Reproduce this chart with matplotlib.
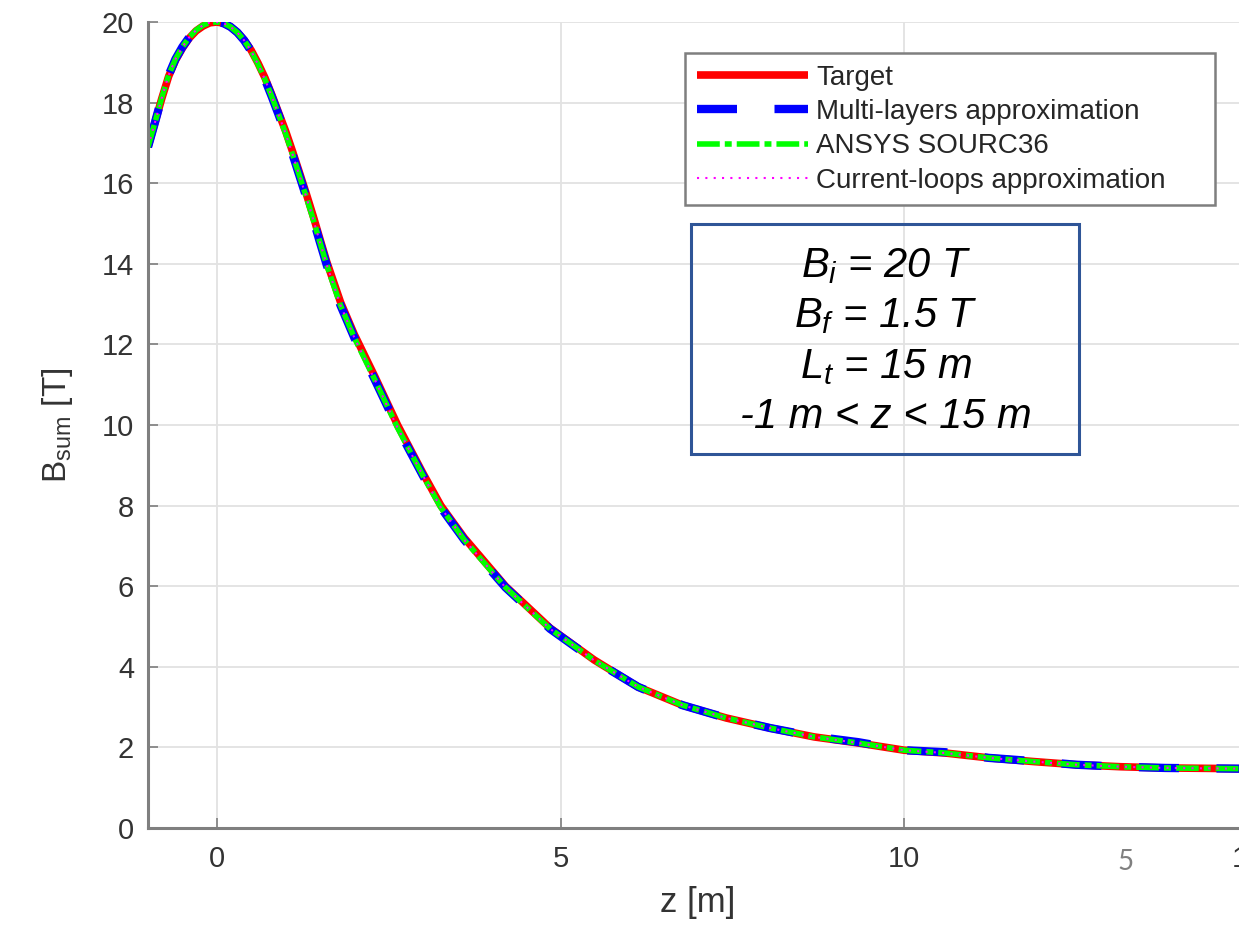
import matplotlib
matplotlib.use("Agg")
import matplotlib.pyplot as plt
from matplotlib.patches import Rectangle

plt.rcParams['font.family'] = ['Liberation Sans', 'DejaVu Sans']
plt.rcParams['mathtext.fontset'] = 'custom'
plt.rcParams['mathtext.rm'] = 'Liberation Sans'
plt.rcParams['mathtext.it'] = 'Liberation Sans:italic'

# 读图得到的数据 z [m], B [T]
z = [-1.0, -0.9, -0.8, -0.7, -0.6, -0.5, -0.4, -0.3, -0.2, -0.1, 0.0,
     0.1, 0.2, 0.3, 0.4, 0.5, 0.6, 0.7, 0.8, 0.9, 1.0, 1.1, 1.2, 1.3,
     1.4, 1.5, 1.6, 1.8, 2.0, 2.3, 2.63, 3.0, 3.26, 3.6, 4.2, 4.85,
     5.49, 6.13, 6.77, 7.41, 8.05, 8.69, 9.33, 10.0, 10.6, 11.23,
     11.87, 12.5, 13.15, 13.8, 15.0]

b_target = [16.9, 17.5, 18.1, 18.65, 19.05, 19.35, 19.6, 19.78, 19.9,
            19.98, 20.0, 19.97, 19.88, 19.74, 19.55, 19.3, 18.98, 18.62,
            18.2, 17.75, 17.3, 16.8, 16.28, 15.75, 15.2, 14.62, 14.05,
            13.05, 12.25, 11.2, 10.0, 8.8, 8.0, 7.2, 6.0, 4.96, 4.17,
            3.5, 3.05, 2.73, 2.48, 2.26, 2.11, 1.93, 1.86, 1.74, 1.65,
            1.57, 1.52, 1.49, 1.47]

b_multilayer = [16.9, 17.5, 18.12, 18.68, 19.08, 19.38, 19.62, 19.8, 19.92,
                19.99, 20.0, 19.97, 19.88, 19.74, 19.54, 19.28, 18.95, 18.58,
                18.15, 17.7, 17.24, 16.73, 16.2, 15.67, 15.12, 14.54, 13.97,
                12.97, 12.17, 11.12, 9.93, 8.74, 7.95, 7.15, 5.97, 4.94, 4.16,
                3.5, 3.05, 2.73, 2.48, 2.27, 2.13, 1.93, 1.88, 1.74, 1.66,
                1.57, 1.52, 1.49, 1.47]

b_ansys = [16.9, 17.5, 18.12, 18.68, 19.08, 19.38, 19.62, 19.8, 19.92,
           19.99, 20.0, 19.97, 19.88, 19.74, 19.54, 19.28, 18.95, 18.58,
           18.15, 17.7, 17.24, 16.73, 16.2, 15.67, 15.12, 14.54, 13.97,
           12.97, 12.17, 11.12, 9.93, 8.74, 7.95, 7.15, 5.97, 4.94, 4.16,
           3.5, 3.05, 2.73, 2.48, 2.26, 2.11, 1.93, 1.86, 1.74, 1.65,
           1.57, 1.52, 1.49, 1.47]

b_loops = [16.9, 17.5, 18.12, 18.68, 19.08, 19.38, 19.62, 19.8, 19.92,
           19.99, 20.0, 19.97, 19.88, 19.74, 19.54, 19.28, 18.95, 18.58,
           18.15, 17.7, 17.24, 16.73, 16.2, 15.67, 15.12, 14.54, 13.97,
           12.97, 12.17, 11.12, 9.93, 8.74, 7.95, 7.15, 5.97, 4.94, 4.16,
           3.5, 3.05, 2.73, 2.48, 2.26, 2.11, 1.93, 1.86, 1.74, 1.65,
           1.57, 1.52, 1.49, 1.47]

labels = ["Target", "Multi-layers approximation", "ANSYS SOURC36",
          "Current-loops approximation"]
x_ticks = [0, 5, 10, 15]
y_ticks = [0, 2, 4, 6, 8, 10, 12, 14, 16, 18, 20]
box_lines = [r"$B_i$ = 20 T", r"$B_f$ = 1.5 T", r"$L_t$ = 15 m",
             "-1 m < z < 15 m"]

W, H = 1239, 927
fig = plt.figure(figsize=(W / 100, H / 100), dpi=100)
# 坐标轴右端超出图片（原图被裁剪）
ax = fig.add_axes([148 / W, 1 - 828 / H, 1100 / W, 806 / H])

ax.plot(z, b_target, color='#ff0000', lw=5.5, label=labels[0],
        solid_capstyle='butt')
ax.plot(z, b_multilayer, color='#0000ff', lw=6, dashes=(4.8, 4.5),
        label=labels[1], dash_capstyle='butt')
ax.plot(z, b_ansys, color='#00ff00', lw=4, dashes=(4.1, 0.9, 1.25, 0.9),
        label=labels[2], dash_capstyle='butt')
ax.plot(z, b_loops, color='#ff00ff', lw=1.5, dashes=(1, 3),
        label=labels[3])

ax.set_xlim(-1, 15)
ax.set_ylim(0, 20)
ax.set_xticks(x_ticks)
ax.set_yticks(y_ticks)
ax.grid(True, color='#e2e2e2', lw=1.3)
ax.set_axisbelow(True)

for s in ['top', 'right']:
    ax.spines[s].set_visible(False)
for s in ['left', 'bottom']:
    ax.spines[s].set_color('#7f7f7f')
    ax.spines[s].set_linewidth(2.2)
ax.tick_params(direction='in', length=7, width=1.2, color='#7f7f7f',
               labelcolor='#333333', labelsize=21)
ax.tick_params(axis='y', pad=10)
ax.tick_params(axis='x', pad=12)

ax.set_xlabel("z [m]", fontsize=25, color='#333333')
ax.set_ylabel(r"B$_{\mathrm{sum}}$ [T]", fontsize=24, color='#333333')
ax.xaxis.set_label_coords(0.5, -0.072)
ax.yaxis.set_label_coords(-0.066, 0.5)

# 图例框位置（像素）：左 685，上 53，宽 530，高 151
leg = ax.legend(loc='upper left',
                bbox_to_anchor=(685 / W, 1 - 204 / H, 530 / W, 151 / H),
                bbox_transform=fig.transFigure, mode='expand',
                fontsize=20, frameon=True,
                fancybox=False, edgecolor='#7f7f7f', framealpha=1,
                handlelength=4.0, handletextpad=0.3, labelspacing=0.3,
                borderpad=0.42, borderaxespad=0)
leg.get_frame().set_linewidth(1.8)
for t in leg.get_texts():
    t.set_color('#262626')

# 参数说明框
fig.patches.append(Rectangle((691 / W, 1 - 454 / H), 388 / W, 230 / H,
                             transform=fig.transFigure, fill=False,
                             edgecolor='#2f5597', lw=2.2))
for txt, yb in zip(box_lines, [277, 327, 378, 428]):
    fig.text(886 / W, 1 - yb / H, txt, fontsize=30, style='italic',
             ha='center', va='baseline', color='black')

# 原图页码
fig.text(1126 / W, 1 - 862 / H, "5", fontsize=20, color='#808080',
         family=['Lato', 'DejaVu Sans'], ha='center', va='center')

fig.savefig("out.png", dpi=100)
